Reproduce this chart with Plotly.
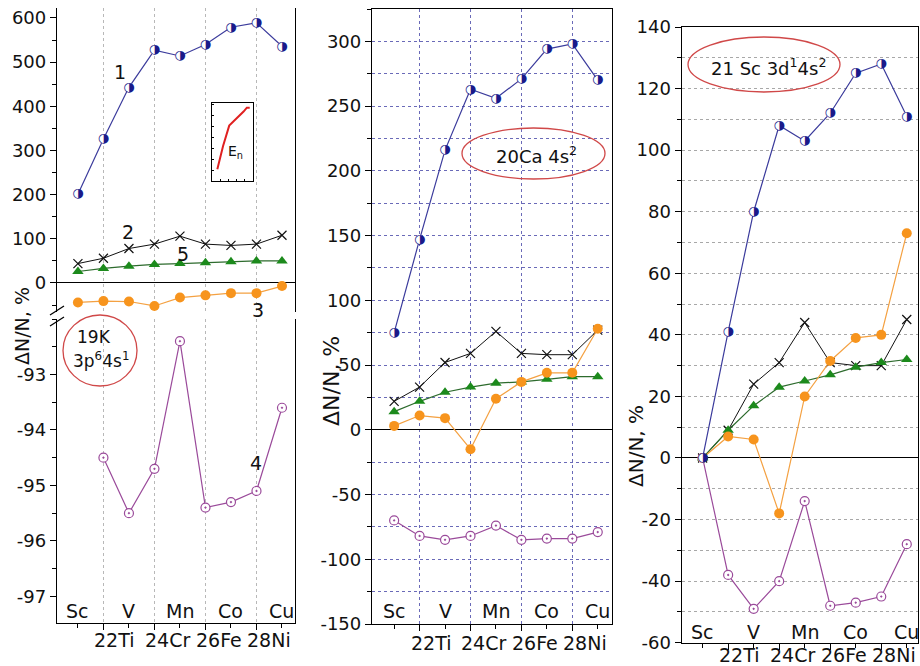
import plotly.graph_objects as go

W, H = 920, 666
def fx(p): return p / W
def fy(p): return 1 - p / H

# ---------------- data ----------------
Z = [21, 22, 23, 24, 25, 26, 27, 28, 29]
odd_z = [21, 23, 25, 27, 29]
odd_labels = ["Sc", "V", "Mn", "Co", "Cu"]
even_z = [22, 24, 26, 28]
even_labels = ["22Ti", "24Cr", "26Fe", "28Ni"]

# 19K 3p6 4s1
K_s1 = [201, 326, 443, 527, 514, 540, 579, 589, 536]
K_s2 = [44, 56, 78, 88, 106, 88, 85, 88, 108]
K_s5 = [26, 33, 38, 42, 44, 46, 48, 50, 50]
K_s3 = [-44, -41, -42, -52, -33, -28, -23, -23, -7]
K_s4 = [None, -94.5, -95.5, -94.7, -92.4, -95.4, -95.3, -95.1, -93.6]

# 20Ca 4s2
Ca_s1 = [75, 147, 216, 263, 256, 271, 294, 298, 270]
Ca_s2 = [22, 33, 52, 59, 76, 59, 58, 58, 77]
Ca_s5 = [14, 22, 29, 33, 36, 37, 39, 41, 41]
Ca_s3 = [3, 11, 9, -15, 24, 37, 44, 44, 78]
Ca_s4 = [-70, -82, -85, -82, -74, -85, -84, -84, -79]

# 21Sc 3d1 4s2
Sc_s1 = [0, 41, 80, 108, 103, 112, 125, 128, 111]
Sc_s2 = [0, 9, 24, 31, 44, 31, 30, 30, 45]
Sc_s5 = [0, 9, 17, 23, 25, 27, 29.5, 31, 32]
Sc_s3 = [0, 7, 6, -18, 20, 31.5, 39, 40, 73]
Sc_s4 = [0, -38, -49, -40, -14, -48, -47, -45, -28]

# inset (E_n curve)
inset_x = [1.3, 2.7, 4.2, 5.8, 7.7, 8.5, 9.2]
inset_y = [1.5, 4.5, 7.1, 7.9, 8.9, 9.4, 9.4]

# tick labels
K_up_vals = [0, 100, 200, 300, 400, 500, 600]
K_up_text = ["0", "100", "200", "300", "400", "500", "600"]
K_lo_vals = [-97, -96, -95, -94, -93]
K_lo_text = ["-97", "-96", "-95", "-94", "-93"]
Ca_vals = [-150, -100, -50, 0, 50, 100, 150, 200, 250, 300]
Ca_text = ["-150", "-100", "-50", "0", "50", "100", "150", "200", "250", "300"]
Sc_vals = [-60, -40, -20, 0, 20, 40, 60, 80, 100, 120, 140]
Sc_text = ["-60", "-40", "-20", "0", "20", "40", "60", "80", "100", "120", "140"]

# ---------------- styles ----------------
NAVY = "#1a1a8a"
NAVY_L = "#3b3b9c"
BLACK = "#111111"
GREEN = "#1c8a1c"
GREEN_L = "#2d6b2d"
ORANGE = "#f7941d"
ORANGE_L = "#f4a142"
PURPLE = "#9a4a9a"
RED = "#d04848"
FONT = "DejaVu Sans"

fig = go.Figure()

def s1_trace(x, y, xa, ya):
    fig.add_trace(go.Scatter(x=x, y=y, xaxis=xa, yaxis=ya, mode="lines+markers",
                             line=dict(color=NAVY_L, width=1.2),
                             marker=dict(symbol="circle", size=9, color="white",
                                         line=dict(width=0)),
                             showlegend=False, hoverinfo="skip"))
    fig.add_trace(go.Scatter(x=x, y=y, xaxis=xa, yaxis=ya, mode="text",
                             text=["\u25D1"] * len(x), textposition="middle center",
                             textfont=dict(size=13, color=NAVY, family=FONT),
                             showlegend=False, hoverinfo="skip"))

def s2_trace(x, y, xa, ya):
    fig.add_trace(go.Scatter(x=x, y=y, xaxis=xa, yaxis=ya, mode="lines+markers",
                             line=dict(color=BLACK, width=1),
                             marker=dict(symbol="x-thin", size=9,
                                         line=dict(color=BLACK, width=1.2)),
                             showlegend=False, hoverinfo="skip"))

def s5_trace(x, y, xa, ya):
    fig.add_trace(go.Scatter(x=x, y=y, xaxis=xa, yaxis=ya, mode="lines+markers",
                             line=dict(color=GREEN_L, width=1.2),
                             marker=dict(symbol="triangle-up", size=10, color=GREEN,
                                         line=dict(width=0)),
                             showlegend=False, hoverinfo="skip"))

def s3_trace(x, y, xa, ya):
    fig.add_trace(go.Scatter(x=x, y=y, xaxis=xa, yaxis=ya, mode="lines+markers",
                             line=dict(color=ORANGE_L, width=1.2),
                             marker=dict(symbol="circle", size=10, color=ORANGE,
                                         line=dict(width=0)),
                             showlegend=False, hoverinfo="skip"))

def s4_trace(x, y, xa, ya):
    fig.add_trace(go.Scatter(x=x, y=y, xaxis=xa, yaxis=ya, mode="lines+markers",
                             line=dict(color=PURPLE, width=1.2),
                             marker=dict(symbol="circle-dot", size=9, color="white",
                                         line=dict(color=PURPLE, width=1.2)),
                             showlegend=False, hoverinfo="skip"))

# left panel (K)
s2_trace(Z, K_s2, "x", "y")
s5_trace(Z, K_s5, "x", "y")
s3_trace(Z, K_s3, "x", "y")
s1_trace(Z, K_s1, "x", "y")
s4_trace(Z, K_s4, "x", "y2")
# middle panel (Ca)
s4_trace(Z, Ca_s4, "x3", "y3")
s5_trace(Z, Ca_s5, "x3", "y3")
s2_trace(Z, Ca_s2, "x3", "y3")
s3_trace(Z, Ca_s3, "x3", "y3")
s1_trace(Z, Ca_s1, "x3", "y3")
# right panel (Sc)
s4_trace(Z, Sc_s4, "x4", "y4")
s2_trace(Z, Sc_s2, "x4", "y4")
s5_trace(Z, Sc_s5, "x4", "y4")
s3_trace(Z, Sc_s3, "x4", "y4")
s1_trace(Z, Sc_s1, "x4", "y4")
# inset
fig.add_trace(go.Scatter(x=inset_x, y=inset_y, xaxis="x5", yaxis="y5", mode="lines",
                         line=dict(color="#e02020", width=2),
                         showlegend=False, hoverinfo="skip"))

tickfont = dict(family=FONT, size=18, color="#111111")
base = dict(showline=True, linecolor="black", linewidth=1.3, ticks="outside",
            tickcolor="black", ticklen=6, tickwidth=1.2, tickfont=tickfont,
            showgrid=False, zeroline=False, automargin=False)

def xax(dom, rng, anchor, grid=None):
    d = dict(base, domain=dom, range=rng, anchor=anchor, tickmode="linear",
             tick0=22, dtick=2, showticklabels=False,
             minor=dict(dtick=1, tick0=21, ticks="outside", ticklen=4,
                        tickcolor="black"))
    if grid:
        d.update(showgrid=True, gridcolor=grid, griddash="dot", gridwidth=1)
    return d

layout = dict(
    template="none",
    width=W, height=H, margin=dict(l=0, r=0, t=0, b=0, pad=0, autoexpand=False),
    paper_bgcolor="white", plot_bgcolor="white", showlegend=False,
    xaxis=xax([fx(57), fx(295)], [20.18, 29.51], "y2", grid="#b8b8b8"),
    xaxis2=dict(domain=[fx(57), fx(295)], range=[20.18, 29.51], anchor="y",
                side="top", showline=True, linecolor="black", linewidth=1.3,
                ticks="", showticklabels=False, showgrid=False, zeroline=False,
                automargin=False),
    yaxis=dict(base, domain=[fy(312), fy(8)], range=[-65.7, 622.6], anchor="x",
               tickmode="array", tickvals=K_up_vals, ticktext=K_up_text,
               minor=dict(dtick=50, tick0=0, ticks="outside", ticklen=4, tickcolor="black"),
               zeroline=True, zerolinecolor="black", zerolinewidth=1.2, mirror=True),
    yaxis2=dict(base, domain=[fy(623), fy(319)], range=[-97.48, -92.0], anchor="x",
                tickmode="array", tickvals=K_lo_vals, ticktext=K_lo_text,
                minor=dict(dtick=0.5, tick0=-97, ticks="outside", ticklen=4, tickcolor="black"),
                mirror=True),
    xaxis3=dict(xax([fx(372), fx(612)], [20.13, 29.56], "y3", grid="#6a6ab8"), mirror=True),
    yaxis3=dict(base, domain=[fy(624), fy(9)], range=[-150, 325], anchor="x3",
                tickmode="array", tickvals=Ca_vals, ticktext=Ca_text,
                minor=dict(dtick=25, tick0=0, ticks="outside", ticklen=4, tickcolor="black",
                           showgrid=True, gridcolor="#6a6ab8", griddash="dot", gridwidth=1),
                zeroline=True, zerolinecolor="black", zerolinewidth=1.2, mirror=True),
    xaxis4=dict(xax([fx(681.7), fx(918)], [20.18, 29.44], "y4"), mirror=True),
    yaxis4=dict(base, domain=[fy(642.7), fy(27)], range=[-60, 140], anchor="x4",
                tickmode="array", tickvals=Sc_vals, ticktext=Sc_text,
                showgrid=True, gridcolor="#a8a8a8", griddash="dot", gridwidth=1,
                minor=dict(dtick=10, tick0=0, ticks="outside", ticklen=4, tickcolor="black",
                           showgrid=True, gridcolor="#a8a8a8", griddash="dot", gridwidth=1),
                zeroline=True, zerolinecolor="black", zerolinewidth=1.2, mirror=True),
    xaxis5=dict(domain=[fx(212), fx(253)], range=[0, 10], anchor="y5",
                showline=True, linecolor="black", linewidth=1, mirror=True,
                ticks="inside", ticklen=2, dtick=2, tickcolor="black",
                showticklabels=False, showgrid=False, zeroline=False, automargin=False),
    yaxis5=dict(domain=[fy(181), fy(103)], range=[0, 10], anchor="x5",
                showline=True, linecolor="black", linewidth=1, mirror=True,
                ticks="inside", ticklen=2, dtick=1.4, tickcolor="black",
                showticklabels=False, showgrid=False, zeroline=False, automargin=False),
)
fig.update_layout(**layout)

ann = []
def pann(xp, yp, text, size, angle=0):
    ann.append(dict(x=fx(xp), y=fy(yp), xref="paper", yref="paper", text=text,
                    textangle=angle, showarrow=False, xanchor="center", yanchor="middle",
                    font=dict(family=FONT, size=size, color="#111111")))

lab_font = dict(family=FONT, size=19, color="#111111")
# x category labels for each panel: (xref, inside-row y, bottom-row y)
for xr, y_in, y_bot in [("x", 611, 640), ("x3", 611, 643), ("x4", 632, 655)]:
    for z, t in zip(odd_z, odd_labels):
        ann.append(dict(x=z, y=fy(y_in), xref=xr, yref="paper", text=t,
                        showarrow=False, font=lab_font, xanchor="center", yanchor="middle"))
    for z, t in zip(even_z, even_labels):
        ann.append(dict(x=z, y=fy(y_bot), xref=xr, yref="paper", text=t,
                        showarrow=False, font=lab_font, xanchor="left", yanchor="middle",
                        xshift=-11))

# y titles
pann(22, 326, "ΔN/N, %", 19, -90)
pann(331, 381, "ΔN/N, %", 22, -90)
pann(636, 446, "ΔN/N, %", 20, -90)

# curve numbers (left panel)
for t, xp, yp in [("1", 120, 72), ("2", 128, 232), ("5", 183, 254), ("3", 258, 310), ("4", 256, 463)]:
    pann(xp, yp, t, 19)

# element labels in ellipses
pann(94, 337, "19K", 17)
pann(101, 360, "3p<sup>6</sup>4s<sup>1</sup>", 17)
pann(536, 155, "20Ca 4s<sup>2</sup>", 18)
pann(768, 67, "21 Sc 3d<sup>1</sup>4s<sup>2</sup>", 18)
pann(235, 152, "E<sub>n</sub>", 14)
fig.update_layout(annotations=ann)

shapes = []
for x0, y0, x1, y1 in [(63, 315, 137, 386), (462, 128, 605, 179), (688, 37, 840, 92)]:
    shapes.append(dict(type="circle", xref="paper", yref="paper",
                       x0=fx(x0), x1=fx(x1), y0=fy(y1), y1=fy(y0),
                       line=dict(color=RED, width=1.3)))
# axis break marks
for ya, yb in [(315, 306), (326, 317)]:
    shapes.append(dict(type="line", xref="paper", yref="paper",
                       x0=fx(50), x1=fx(64), y0=fy(ya), y1=fy(yb),
                       line=dict(color="black", width=1.3)))
fig.update_layout(shapes=shapes)

fig.write_html("out.html", config={"displayModeBar": False},
               post_script="document.body.style.margin='0';document.body.style.overflow='hidden';")
